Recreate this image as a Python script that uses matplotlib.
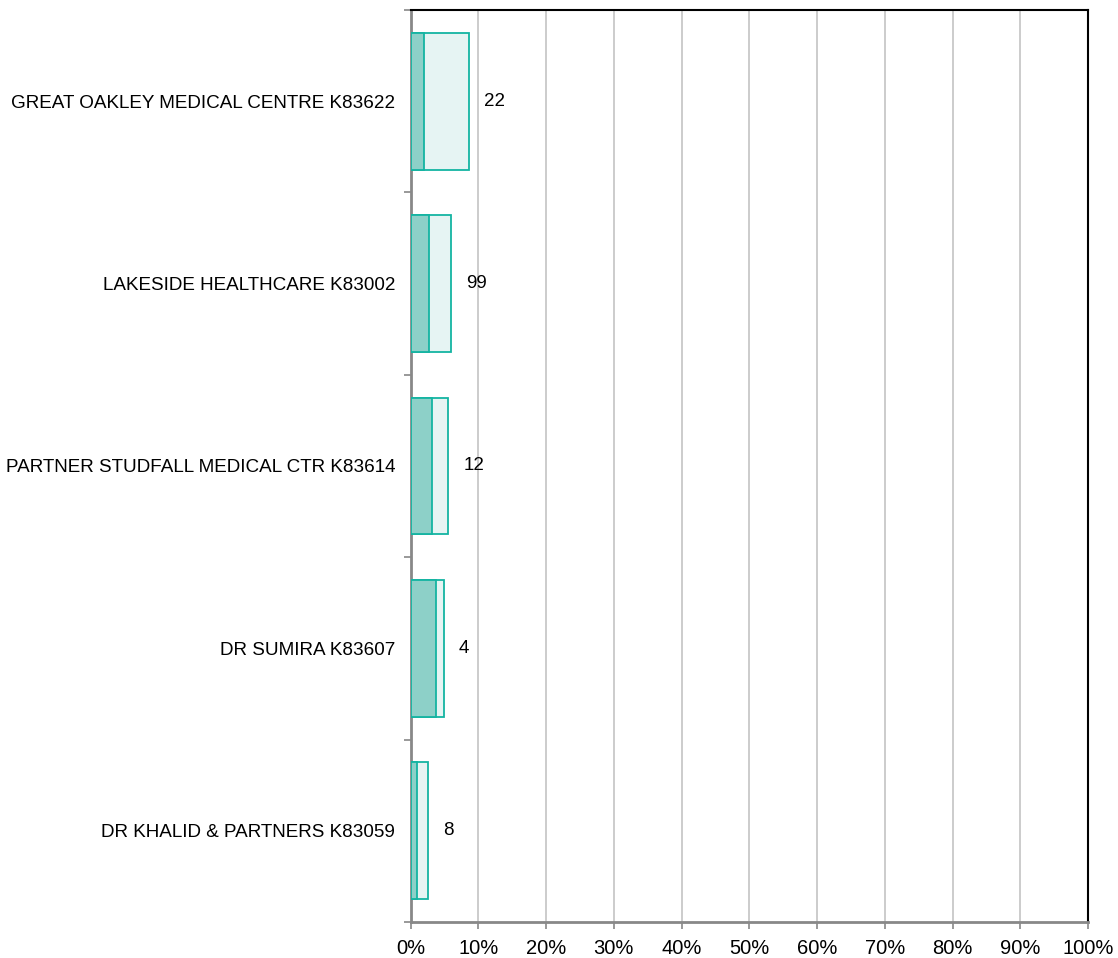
import matplotlib.pyplot as plt
import numpy as np

# practices, top to bottom as in the picture
practices = ["GREAT OAKLEY MEDICAL CENTRE K83622",
             "LAKESIDE HEALTHCARE K83002",
             "PARTNER STUDFALL MEDICAL CTR K83614",
             "DR SUMIRA K83607",
             "DR KHALID & PARTNERS K83059"]
# outer (light) bar and inner (dark) bar, in percent
outer_pct = [8.7, 6.0, 5.6, 4.9, 2.6]
inner_pct = [2.0, 2.7, 3.2, 3.7, 0.9]
# count printed next to each bar
counts = [22, 99, 12, 4, 8]

plt.rcParams['font.family'] = ['Liberation Sans', 'DejaVu Sans']

fig = plt.figure(figsize=(11.18, 9.58), dpi=100)
ax = fig.add_axes([0.3672, 0.0376, 0.6060, 0.952])

y = np.arange(len(practices))
edge = "#14b4a2"

ax.barh(y, outer_pct, height=0.75, color="#e6f4f3", edgecolor=edge, linewidth=1.3, zorder=3)
ax.barh(y, inner_pct, height=0.75, color="#8dd0c8", edgecolor=edge, linewidth=1.3, zorder=4)

for yi, v, c in zip(y, outer_pct, counts):
    ax.text(v + 2.2, yi, str(c), va="center", ha="left", fontsize=13.5, color="black")

ax.set_xlim(0, 100)
ax.set_ylim(len(practices) - 0.5, -0.5)
ax.set_xticks(np.arange(0, 101, 10))
ax.set_xticklabels([f"{t}%" for t in range(0, 101, 10)], fontsize=14.5)
ax.set_yticks(y)
ax.set_yticklabels(practices, fontsize=13.6)
ax.tick_params(axis="y", length=0, pad=11)
# small tick marks between the categories
ax.set_yticks(np.arange(-0.5, len(practices), 1), minor=True)
ax.tick_params(axis="y", which="minor", length=5, color="#888888", width=1.2)
ax.tick_params(axis="x", length=5, color="#888888", width=1.2, pad=7)

ax.grid(axis="x", color="#c8c8c8", linewidth=1.3, zorder=0)
ax.set_axisbelow(True)

ax.spines["left"].set_color("#888888")
ax.spines["left"].set_linewidth(2)
ax.spines["bottom"].set_color("#888888")
ax.spines["bottom"].set_linewidth(2)
ax.spines["top"].set_color("black")
ax.spines["top"].set_linewidth(1.5)
ax.spines["right"].set_color("black")
ax.spines["right"].set_linewidth(1.5)

fig.savefig("out.png", dpi=100)
